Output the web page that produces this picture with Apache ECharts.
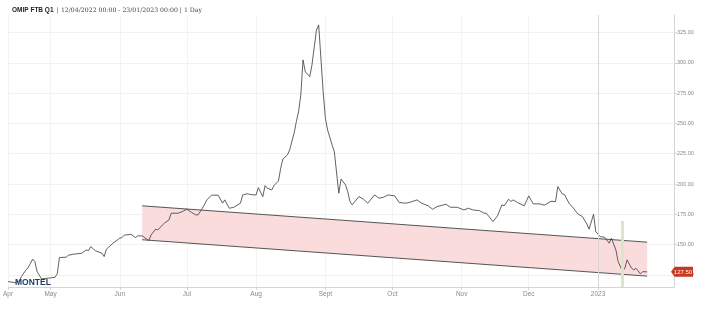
<!DOCTYPE html>
<html>
<head>
<meta charset="utf-8">
<script src="https://cdn.jsdelivr.net/npm/echarts@6/dist/echarts.min.js"></script>
<style>
  html, body { margin: 0; padding: 0; background: #fff; }
  #chart { width: 708px; height: 320px; }
</style>
</head>
<body>
<div id="chart"></div>
<script>
// price series (daily)
const priceDates = [
  '2022-04-12','2022-04-15','2022-04-17','2022-04-18','2022-04-20','2022-04-21','2022-04-23','2022-04-24','2022-04-25','2022-04-27','2022-04-30',
  '2022-05-03','2022-05-04','2022-05-05','2022-05-08','2022-05-09','2022-05-11','2022-05-15','2022-05-17','2022-05-18','2022-05-19','2022-05-21','2022-05-24','2022-05-25','2022-05-26','2022-05-29',
  '2022-06-01','2022-06-02','2022-06-03','2022-06-06','2022-06-08','2022-06-09','2022-06-11','2022-06-14','2022-06-15','2022-06-17','2022-06-18','2022-06-20','2022-06-21','2022-06-23','2022-06-24','2022-06-27','2022-06-29',
  '2022-07-01','2022-07-03','2022-07-05','2022-07-06','2022-07-08','2022-07-10','2022-07-12','2022-07-15','2022-07-17','2022-07-18','2022-07-20','2022-07-22','2022-07-25','2022-07-26','2022-07-28','2022-07-29','2022-07-31',
  '2022-08-01','2022-08-02','2022-08-04','2022-08-05','2022-08-06','2022-08-08','2022-08-09','2022-08-11','2022-08-12','2022-08-13','2022-08-15','2022-08-16','2022-08-18','2022-08-19','2022-08-20','2022-08-21','2022-08-22','2022-08-23','2022-08-25','2022-08-26','2022-08-28','2022-08-29','2022-08-31',
  '2022-09-01','2022-09-02','2022-09-04','2022-09-05','2022-09-07','2022-09-08','2022-09-10','2022-09-11','2022-09-12','2022-09-13','2022-09-16','2022-09-18','2022-09-20','2022-09-23','2022-09-25','2022-09-27','2022-09-29',
  '2022-10-02','2022-10-04','2022-10-07','2022-10-09','2022-10-12','2022-10-14','2022-10-17','2022-10-19','2022-10-21','2022-10-25','2022-10-27','2022-10-30',
  '2022-11-02','2022-11-04','2022-11-06','2022-11-09','2022-11-11','2022-11-12','2022-11-15','2022-11-17','2022-11-19','2022-11-20','2022-11-22','2022-11-23','2022-11-24','2022-11-26','2022-11-29',
  '2022-12-01','2022-12-03','2022-12-06','2022-12-08','2022-12-10','2022-12-11','2022-12-13','2022-12-14','2022-12-16','2022-12-17','2022-12-19','2022-12-21','2022-12-23','2022-12-25','2022-12-27','2022-12-28','2022-12-30','2022-12-31',
  '2023-01-02','2023-01-04','2023-01-06','2023-01-07','2023-01-09','2023-01-10','2023-01-12','2023-01-13','2023-01-14','2023-01-16','2023-01-17','2023-01-18','2023-01-20','2023-01-21','2023-01-23'
];
const priceValues = [
  119.5,118.6,120,123.6,129,131,138,136,127.7,121.7,122.3,
  123,125.8,139.3,139.6,141.2,142,142.9,145.6,145,148.4,145,142.9,140.1,146.2,151.2,
  155.3,155.8,157.8,158.5,155.8,157.2,157.2,153.3,158,162.7,162.1,166,167.7,170.4,175.9,175.9,177.2,
  179.2,176.7,174.5,174.5,180,186.9,190.8,190.8,184.2,186.9,180,180.8,184.2,191,192,191.5,191,
  191,197,189.6,198.7,196.5,195.1,198.7,202.6,213,220.7,224,228.1,241.9,251.5,259.7,273.5,302.4,292.7,288.6,298.3,327.1,331.3,276.2,
  254.3,244.6,232.3,226.7,192.4,204,199.3,193.8,185.5,182.8,189.6,187.5,184.2,191,188.3,189.1,191,
  190.2,184.7,184.2,185,186.9,184.2,182,179.2,181.4,183.3,180.8,180.8,
  178.6,180,178.6,178,175.9,175.9,169,173.7,182.8,182,187.5,185.5,186.9,184.7,182,
  190.2,183.6,183.6,182.5,184.7,185.8,185.5,197.9,191.8,191.3,184.2,180,175.3,173.1,167.1,162.7,175,160.7,
  156.6,156,151.2,155.3,145.6,136,127.7,130.5,137.4,130.5,129.1,130.5,125.8,127.7,127.5
];

// trend channel
const channelDates = ['2022-06-11', '2023-01-23'];
const channelUpper = [182, 152];
const channelLower = [154, 124];

// green marker bar
const markerDate = '2023-01-12';
const markerTop = 169.5;

// axes
const xMin = '2022-04-12';
const xMax = '2023-02-04';
const xTicks = ['2022-04-12','2022-05-01','2022-06-01','2022-07-01','2022-08-01','2022-09-01','2022-10-01','2022-11-01','2022-12-01','2023-01-01'];
const monthNames = ['2023','Feb','Mar','Apr','May','Jun','Jul','Aug','Sept','Oct','Nov','Dec'];
const yTicks = [125, 150, 175, 200, 225, 250, 275, 300, 325];
const yMin = 115;
const yMax = 339.5;

const toTs = s => new Date(s + 'T00:00:00').getTime();

const chart = echarts.init(document.getElementById('chart'), null, { renderer: 'canvas' });

const lastValue = priceValues[priceValues.length - 1];

const option = {
  animation: false,
  backgroundColor: '#fff',
  grid: { left: 5, right: 34, top: 15, bottom: 33, containLabel: false },
  xAxis: {
    // timestamps on a value axis so month ticks can be placed exactly
    type: 'value',
    min: toTs(xMin),
    max: toTs(xMax),
    axisLine: { show: true, lineStyle: { color: '#d4d4d4' } },
    axisTick: { show: true, customValues: xTicks.map(toTs), length: 3, lineStyle: { color: '#d4d4d4' } },
    axisLabel: {
      customValues: xTicks.map(toTs),
      color: '#8a8a8a',
      fontSize: 6.5,
      fontFamily: 'Liberation Sans',
      margin: 4,
      formatter: v => monthNames[new Date(v).getMonth()]
    },
    splitLine: { show: true, lineStyle: { color: '#f3f3f3', width: 1 } }
  },
  yAxis: {
    type: 'value',
    position: 'right',
    min: yMin,
    max: yMax,
    axisLine: { show: true, lineStyle: { color: '#d4d4d4' } },
    axisTick: { show: true, customValues: yTicks, length: 3, lineStyle: { color: '#d4d4d4' } },
    axisLabel: {
      customValues: yTicks,
      color: '#8a8a8a',
      fontSize: 5.5,
      fontFamily: 'Liberation Sans',
      margin: 3,
      formatter: v => v.toFixed(2)
    },
    splitLine: { show: true, lineStyle: { color: '#f1f1f1', width: 1 } }
  },
  series: [
    {
      // pink channel
      type: 'custom',
      z: 1,
      data: channelDates.map((d, i) => [toTs(d), channelUpper[i], channelLower[i]]),
      renderItem: function (params, api) {
        if (params.dataIndex !== 0) return null;
        const up = channelDates.map((d, i) => api.coord([toTs(d), channelUpper[i]]));
        const lo = channelDates.map((d, i) => api.coord([toTs(d), channelLower[i]]));
        return {
          type: 'group',
          children: [
            { type: 'polygon', shape: { points: up.concat(lo.slice().reverse()) }, style: { fill: '#fadcdc' } },
            { type: 'polyline', shape: { points: up }, style: { stroke: '#555', lineWidth: 1, fill: null } },
            { type: 'polyline', shape: { points: lo }, style: { stroke: '#555', lineWidth: 1, fill: null } }
          ]
        };
      }
    },
    {
      type: 'line',
      z: 3,
      data: priceDates.map((d, i) => [toTs(d), priceValues[i]]),
      showSymbol: false,
      symbol: 'none',
      lineStyle: { color: '#444', width: 0.85 },
      markLine: {
        silent: true,
        symbol: 'none',
        label: { show: false },
        data: [
          [{ coord: [toTs('2023-01-01'), yMin], lineStyle: { color: '#d6d6d6', width: 1, type: 'solid' } }, { coord: [toTs('2023-01-01'), yMax] }],
          [{ coord: [toTs(markerDate), yMin], lineStyle: { color: '#d9e6cc', width: 3, type: 'solid' } }, { coord: [toTs(markerDate), markerTop] }]
        ]
      },
      markPoint: {
        silent: true,
        data: [{
          coord: [toTs(xMax), lastValue],
          symbol: 'path://M0,5 L4,0 L24,0 L24,10 L4,10 Z',
          symbolSize: [22, 10],
          symbolOffset: [8, 0],
          itemStyle: { color: '#c8381e' },
          label: {
            show: true,
            formatter: lastValue.toFixed(2),
            color: '#fff',
            fontSize: 6,
            fontFamily: 'Liberation Sans',
            offset: [1, 0]
          }
        }]
      }
    }
  ],
  graphic: [
    {
      type: 'text',
      left: 12,
      top: 4,
      style: {
        text: '{b|OMIP FTB Q1} {s|| 12/04/2022 00:00 - 23/01/2023 00:00 | 1 Day}',
        rich: {
          b: { fontFamily: 'Liberation Sans', fontWeight: 'bold', fontSize: 6.5, fill: '#222' },
          s: { fontFamily: 'DejaVu Serif', fontSize: 6.2, fill: '#444' }
        }
      }
    },
    {
      type: 'text',
      left: 15,
      top: 278,
      z: 10,
      style: {
        text: 'MONTEL',
        fontFamily: 'Liberation Sans',
        fontWeight: 'bold',
        fontSize: 8.5,
        fill: '#1d3d66'
      }
    }
  ]
};

chart.setOption(option);
</script>
</body>
</html>
